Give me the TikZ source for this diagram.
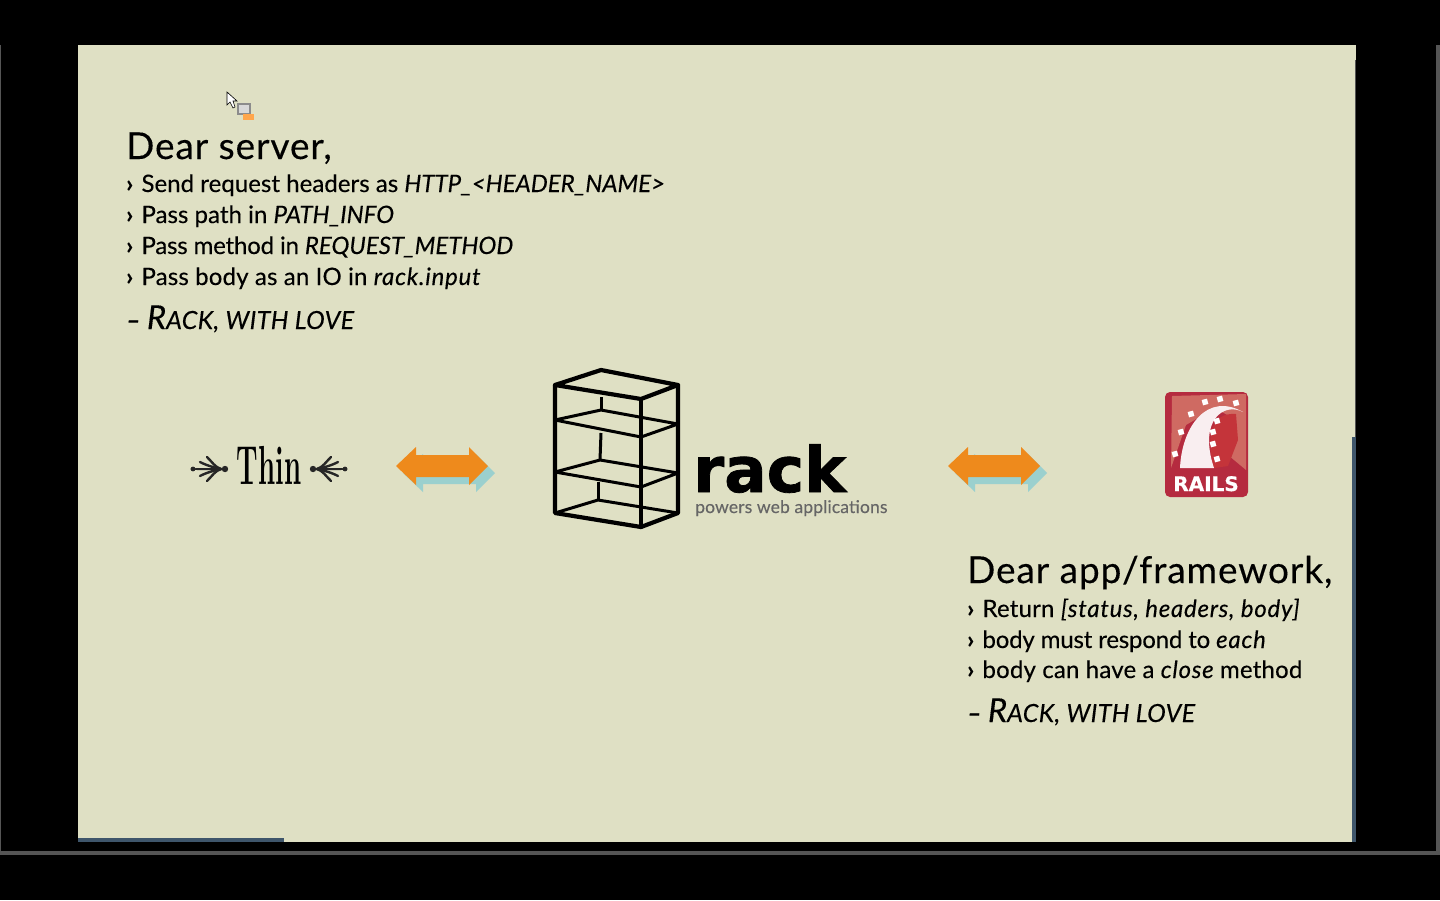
\documentclass[tikz,border=0pt]{standalone}
\usepackage{fontspec}
\setmainfont[FakeBold=.25,UprightFeatures={LetterSpace=.8}]{Lato}
\newfontfamily\headfont[FakeBold=.25,LetterSpace=2.5]{Lato}
\newfontfamily\midfont[FakeBold=.25,UprightFeatures={LetterSpace=.2}]{Lato}
\newfontfamily\tightfont[FakeBold=.25,UprightFeatures={LetterSpace=-.8}]{Lato}
\newfontfamily\rackfont[FakeBold=1.2]{DejaVu Sans}
\newfontfamily\railsfont[FakeBold=.6]{DejaVu Sans}
\newfontfamily\thinfont{Latin Modern Roman}
\usetikzlibrary{positioning}
\definecolor{slidebg}{HTML}{DFE0C4}
\definecolor{arroworange}{HTML}{EE8A1C}
\definecolor{arrowcyan}{HTML}{9BD0CE}
\definecolor{railsred}{HTML}{B52B3F}
\definecolor{railslight}{HTML}{CF6A62}
\definecolor{railsinner}{HTML}{C4343A}
\definecolor{edgeblue}{HTML}{3F566B}
\definecolor{edgegrey}{HTML}{555555}
\tikzset{
  x=1pt, y=-1pt,
  heading/.style={anchor=base west, inner sep=0pt, font=\headfont\fontsize{37}{37}\selectfont},
  bullet/.style={anchor=base west, inner sep=0pt, font=\fontsize{24}{24}\selectfont},
  signoff/.style={anchor=base west, inner sep=0pt, font=\fontsize{25}{25}\selectfont\itshape\addfontfeature{LetterSpace=1.5}},
  shelf/.style={line width=3pt, line join=round},
  rackedge/.style={line width=4.2pt, line join=round, line cap=round},
  railsdot/.style={fill=white, draw=none, minimum size=5.5pt, inner sep=0pt, rotate=15},
  pics/dblarrow/.style={code={
    \fill[arrowcyan, shift={(7,7)}] (0,0) -- (20,-19) -- (20,-11) -- (73,-11) -- (73,-19) -- (92,0) -- (73,19) -- (73,11) -- (20,11) -- (20,19) -- cycle;
    \fill[arroworange] (0,0) -- (20,-19) -- (20,-11) -- (73,-11) -- (73,-19) -- (92,0) -- (73,19) -- (73,11) -- (20,11) -- (20,19) -- cycle;
  }},
  pics/flourish/.style={code={
    \fill[black!85] (0,0) circle (3.2);
    \fill[black!85] (-2,-1) -- (-28,-1) -- (-35,0) -- (-28,1) -- (-2,1) -- cycle;
    \fill[black!85] (-32,0) circle (2.4);
    \foreach \tipx/\tipy in {-18/-12, -25/-7, -25/7, -18/12}{
      \draw[black!85, line width=2.4pt, line cap=round] (-4,0) .. controls (-10,\tipy*.15) and (\tipx+5,\tipy*.6) .. (\tipx,\tipy);
    }
  }},
}
\newcommand{\bul}{\textbf{›}\hspace{2pt} }
\newcommand{\itl}[1]{{\itshape\addfontfeature{LetterSpace=3.2}#1}}
\newcommand{\sigtext}{\textbf{–} {\fontsize{33}{33}\selectfont R}ACK, WITH LOVE}
\begin{document}
\begin{tikzpicture}
\useasboundingbox (0,0) rectangle (1440,900);
\fill[black] (0,0) rectangle (1440,900);
\fill[slidebg] (78,45) rectangle (1356,842);
% window edges
\fill[edgegrey] (1355,60) rectangle (1356,437);
\fill[edgeblue] (1352,437) rectangle (1356,842);
\fill[edgeblue] (78,838) rectangle (284,842);
\fill[edgegrey] (0,851) rectangle (1440,855);
\fill[edgegrey] (0,45) rectangle (1,851);
\fill[edgegrey] (1436,45) rectangle (1440,855);

% first letter
\node[heading] (serverhead) at (126,159) {Dear server,};
\node[bullet] (serverone) at (126,192) {\bul {\midfont Send request headers as \textit{HTTP\_<HEADER\_NAME>}}};
\node[bullet] (servertwo) at (126,223) {\bul {\midfont Pass path in \textit{PATH\_INFO}}};
\node[bullet] (serverthree) at (126,254) {\bul {\tightfont Pass method in \textit{REQUEST\_METHOD}}};
\node[bullet] (serverfour) at (126,285) {\bul Pass body as an IO in \itl{rack.input}};
\node[signoff] (serversign) at (126,329) {\sigtext};

% second letter
\node[heading] (apphead) at (967,583) {Dear app/framework,};
\node[bullet] (appone) at (967,617) {\bul Return \itl{[status, headers, body]}};
\node[bullet] (apptwo) at (967,648) {\bul {\tightfont body must respond to }\itl{each}};
\node[bullet] (appthree) at (967,678) {\bul body can have a \itl{close} method};
\node[signoff] (appsign) at (967,722) {\sigtext};

% thin logo
\node[inner sep=0pt, anchor=base, xscale=.5, transform shape, font=\thinfont\bfseries\fontsize{55}{55}\selectfont] (thinlogo) at (269,484) {Thin};
\pic at (225,469) {flourish};
\pic[xscale=-1] at (313,469) {flourish};

% arrows
\pic at (396,466) {dblarrow};
\pic at (948,466) {dblarrow};

% rack shelves
\draw[rackedge] (555,385) -- (601,370) -- (678,385) -- (641,399) -- cycle;
\draw[rackedge] (555,385) -- (555,513) -- (641,527) -- (678,513) -- (678,385);
\draw[rackedge] (641,399) -- (641,527);
\draw[shelf] (555,420) -- (641,437) -- (678,424) -- (601,410) -- cycle;
\draw[shelf] (555,472) -- (641,487) -- (678,473) -- (600,460) -- cycle;
\draw[shelf] (555,513) -- (598,500) -- (678,513);
\draw[shelf] (601,397) -- (601,410);
\draw[shelf] (601,433) -- (600,460);
\draw[shelf] (598,482) -- (598,500);
\node[inner sep=0pt, anchor=base west, font=\rackfont\bfseries\fontsize{63}{63}\selectfont] (racklabel) at (693,492) {rack};
\node[inner sep=0pt, anchor=base west, text=black!60, font=\fontsize{17.5}{17.5}\selectfont] (racktag) at (695,513) {powers web applications};

% rails logo
\fill[railsred, rounded corners=5pt] (1165,392) rectangle (1248,497);
\fill[railslight] (1172,396) -- (1246,394) -- (1246,470) -- (1228,455) -- (1236,420) -- (1215,408) -- (1186,425) -- (1171,468) -- cycle;
\fill[railsinner] (1214,468) .. controls (1205,435) and (1212,412) .. (1236,414) -- (1238,440) -- (1228,466) -- cycle;
\fill[white!92!railsred] (1180,468) .. controls (1182,425) and (1208,392) .. (1243,412) .. controls (1224,402) and (1198,420) .. (1214,468) -- cycle;
\foreach \dotx/\doty in {1175/454, 1181/432, 1191/414, 1205/402, 1220/399, 1236/403, 1217/421, 1213/432, 1213/444, 1217/459}{
  \node[railsdot] at (\dotx,\doty) {};
}
\node[inner sep=0pt, anchor=base, text=white, font=\railsfont\bfseries\fontsize{20}{20}\selectfont] (railslabel) at (1206,491) {RAILS};

% cursor
\draw[black, fill=white, line width=.6pt] (227,92) -- (227,105) -- (230,102) -- (233,108) -- (235,107) -- (233,101) -- (237,101) -- cycle;
\fill[black!45] (237,103) rectangle (251,115);
\fill[black!15] (239,105) rectangle (249,113);
\fill[orange!70] (243,114) rectangle (254,120);
\end{tikzpicture}
\end{document}
